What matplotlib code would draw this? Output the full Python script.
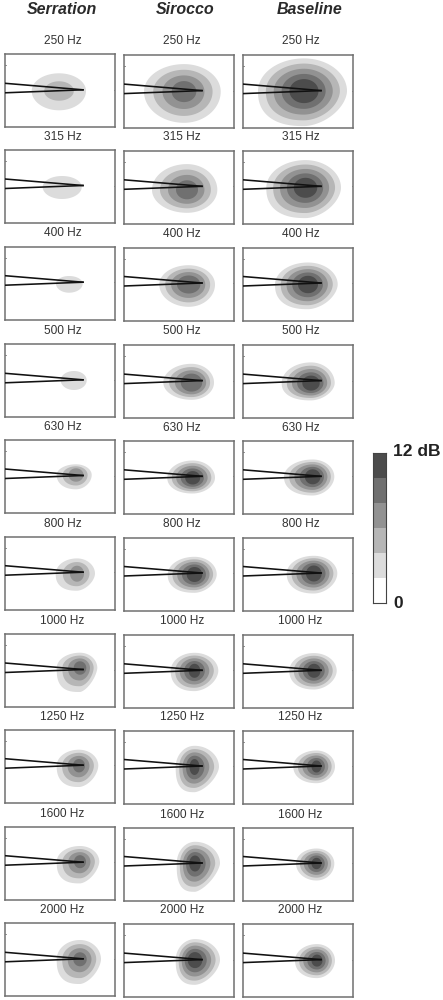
import numpy as np
import matplotlib
matplotlib.use('Agg')
import matplotlib.pyplot as plt
from matplotlib.colors import ListedColormap

plt.rcParams['font.family'] = ['Liberation Sans', 'DejaVu Sans']

freqs = [250, 315, 400, 500, 630, 800, 1000, 1250, 1600, 2000]
columns = ['Serration', 'Sirocco', 'Baseline']

# outer contour extents in panel units: left, right, top, bottom
serration_outer = [[26.7, 81, 19, 56], [37.7, 76.7, 26, 49], [51, 77.7, 29.3, 46], [55.7, 81.7, 26.7, 45.7],
                   [51.7, 86.7, 24.3, 49.3], [50.7, 90, 21.7, 54], [51.7, 92.3, 18.7, 58], [51.7, 93.3, 20, 57.3],
                   [51.7, 94.3, 19.3, 56.7], [51.7, 96, 16.7, 60.7]]
sirocco_outer = [[20, 96.7, 9, 67.7], [28, 93.3, 13.3, 62], [35.3, 91, 17.7, 59.3], [39.3, 90, 18.7, 54.7],
                 [43.3, 91, 19.7, 52.7], [43.7, 92.7, 19.3, 55.3], [46.7, 94.3, 18, 56.3], [51.7, 95, 15.3, 61.7],
                 [52.7, 96, 14.3, 64.3], [51.7, 96, 15, 60.7]]
baseline_outer = [[15, 104, 3.3, 71], [23.3, 98, 9.3, 67.3], [32, 94.7, 15, 61.7], [38.7, 91.7, 17.3, 55.3],
                  [41, 91.3, 18.7, 54.7], [43.7, 94.3, 18.3, 56], [46.3, 93.7, 18.3, 54.7], [50.3, 92, 20, 52.7],
                  [53, 91.3, 21, 53], [52, 92, 20, 54]]

# innermost contour: centre x, centre y, half width, half height
serration_peak = [[54, 36.7, 14.8, 9.7], [57, 37, 19, 11], [64, 37, 13, 8], [69, 36, 13, 9],
                  [71, 35, 7.5, 6.7], [72, 37, 7, 8], [75, 34, 6.3, 6.7], [74, 36, 6, 6.7],
                  [75, 35, 6, 6.5], [75, 36, 6.7, 7]]
sirocco_peak = [[60, 36.5, 12.3, 10.5], [63, 39, 11, 9.5], [64.7, 37, 11.7, 9], [67.5, 37.5, 10.7, 9],
                [68.7, 37, 7.5, 6.7], [70.5, 37, 7.8, 7.5], [70.5, 36, 5.8, 7], [70.5, 36.5, 5, 8],
                [71, 36, 5.8, 8], [71, 36, 7.3, 8]]
baseline_peak = [[61, 36, 14.5, 12], [62.5, 37, 11.7, 10], [65, 37, 10, 8.7], [68, 38, 8.7, 7.5],
                 [69.7, 36, 7.8, 7.5], [70.8, 36, 7.8, 8], [71, 36, 6.7, 7], [73.5, 36, 5, 6],
                 [73.5, 36, 5, 5.7], [74, 36.5, 5.5, 6]]

# number of filled contour levels in each panel
serration_levels = [2, 1, 1, 1, 3, 3, 4, 4, 4, 4]
sirocco_levels = [4, 4, 4, 4, 5, 5, 5, 5, 5, 5]
baseline_levels = [5, 5, 5, 5, 5, 5, 5, 5, 5, 5]

# how much the lower right of the outer contour is flattened (0 = round)
serration_flat = [0, 0, 0, 0, 0.1, 0.3, 0.5, 0.3, 0.4, 0.4]
sirocco_flat = [0, 0, 0, 0, 0.1, 0.2, 0.2, 0.45, 0.55, 0.35]
baseline_flat = [0.25, 0.25, 0.25, 0.2, 0.15, 0.15, 0.15, 0.1, 0, 0.1]

outer_by_col = [serration_outer, sirocco_outer, baseline_outer]
peak_by_col = [serration_peak, sirocco_peak, baseline_peak]
levels_by_col = [serration_levels, sirocco_levels, baseline_levels]
flat_by_col = [serration_flat, sirocco_flat, baseline_flat]

grays = ['#dcdcdc', '#b6b6b6', '#929292', '#707070', '#4c4c4c']
colorbar_grays = ['white'] + grays

wedge_x = [0, 78]
wedge_upper = [29, 35.5]
wedge_lower = [38.5, 35.5]

panel_left = [5, 124, 243]
panel_top = [54.3, 150, 246.7, 344.3, 440, 536.7, 634, 729.7, 826.7, 923.3]
col_shift = [0, 0.8, 0.8]
panel_w = 110
panel_h = 73
W, H = 443, 1000
label_y = [41, 136.7, 233.3, 331, 427.3, 524, 620.7, 717, 814.3, 910]
label_x = [62.5, 182, 300.5]
header_x = [62, 185.5, 309.5]


def add_axes_px(fig, left, top, width, height):
    return fig.add_axes([left / W, 1 - (top + height) / H, width / W, height / H])


def contour_shape(outer, peak, frac, flat):
    # frac 0 = outer contour, frac 1 = innermost contour
    cx, cy, rx, ry = peak
    left = (cx - outer[0]) * (1 - frac) + rx * frac
    right = (outer[1] - cx) * (1 - frac) + rx * frac
    top = (cy - outer[2]) * (1 - frac) + ry * frac
    bottom = (outer[3] - cy) * (1 - frac) + ry * frac
    t = np.linspace(0, 2 * np.pi, 400)
    c, s = np.cos(t), np.sin(t)
    # superellipse exponent: lower right flattened, lower left filled out
    amount = flat * (1 - frac)
    p = np.full_like(t, 2.0)
    p[(c > 0) & (s > 0)] = 2 - amount
    p[(c < 0) & (s > 0)] = 2 + 1.6 * amount
    dx = np.where(c > 0, right, left) * np.sign(c) * np.abs(c) ** (2 / p)
    dy = np.where(s > 0, bottom, top) * np.sign(s) * np.abs(s) ** (2 / p)
    return cx + dx, cy + dy


fig = plt.figure(figsize=(W / 100, H / 100), dpi=100)

for col, name in enumerate(columns):
    fig.text(header_x[col] / W, 1 - 10 / H, name, ha='center', va='center',
             fontsize=11.5, fontweight='bold', fontstyle='italic', color='#2a2a2a')
    for row, freq in enumerate(freqs):
        ax = add_axes_px(fig, panel_left[col], panel_top[row] + col_shift[col], panel_w, panel_h)
        ax.set_xlim(0, panel_w)
        ax.set_ylim(panel_h, 0)
        ax.set_xticks([])
        ax.set_yticks([])
        for sp in ax.spines.values():
            sp.set_color('#707070')
            sp.set_linewidth(1.1)

        n = levels_by_col[col][row]
        for k in range(n):
            frac = k / (n - 1) if n > 1 else 0
            xs, ys = contour_shape(outer_by_col[col][row], peak_by_col[col][row], frac, flat_by_col[col][row])
            ax.fill(xs, ys, color=grays[k], lw=0, zorder=2)

        ax.plot(wedge_x, wedge_upper, color='#111111', lw=1.15, zorder=3)
        ax.plot(wedge_x, wedge_lower, color='#111111', lw=1.15, zorder=3)
        ax.plot([0, 1.2], [11, 11], color='#777777', lw=0.6, zorder=3)
        ax.plot([panel_w - 1.2, panel_w], [35.5, 35.5], color='#777777', lw=0.6, zorder=3)

        fig.text((label_x[col]) / W, 1 - (label_y[row] + col_shift[col] * 0.5) / H, f'{freq} Hz',
                 ha='center', va='center', fontsize=8.6, color='#333333')

# grey scale bar
cax = add_axes_px(fig, 373.3, 453.3, 12.4, 150)
cax.pcolormesh(np.arange(len(colorbar_grays)).reshape(-1, 1),
               cmap=ListedColormap(colorbar_grays), vmin=-0.5, vmax=len(colorbar_grays) - 0.5)
cax.set_xticks([])
cax.set_yticks([])
for sp in cax.spines.values():
    sp.set_color('#444444')
    sp.set_linewidth(0.8)
fig.text(393 / W, 1 - 452 / H, '12 dB', ha='left', va='center', fontsize=12.5, fontweight='bold', color='#222222')
fig.text(393 / W, 1 - 603 / H, '0', ha='left', va='center', fontsize=12.5, fontweight='bold', color='#222222')

fig.savefig('out.png', dpi=100)
